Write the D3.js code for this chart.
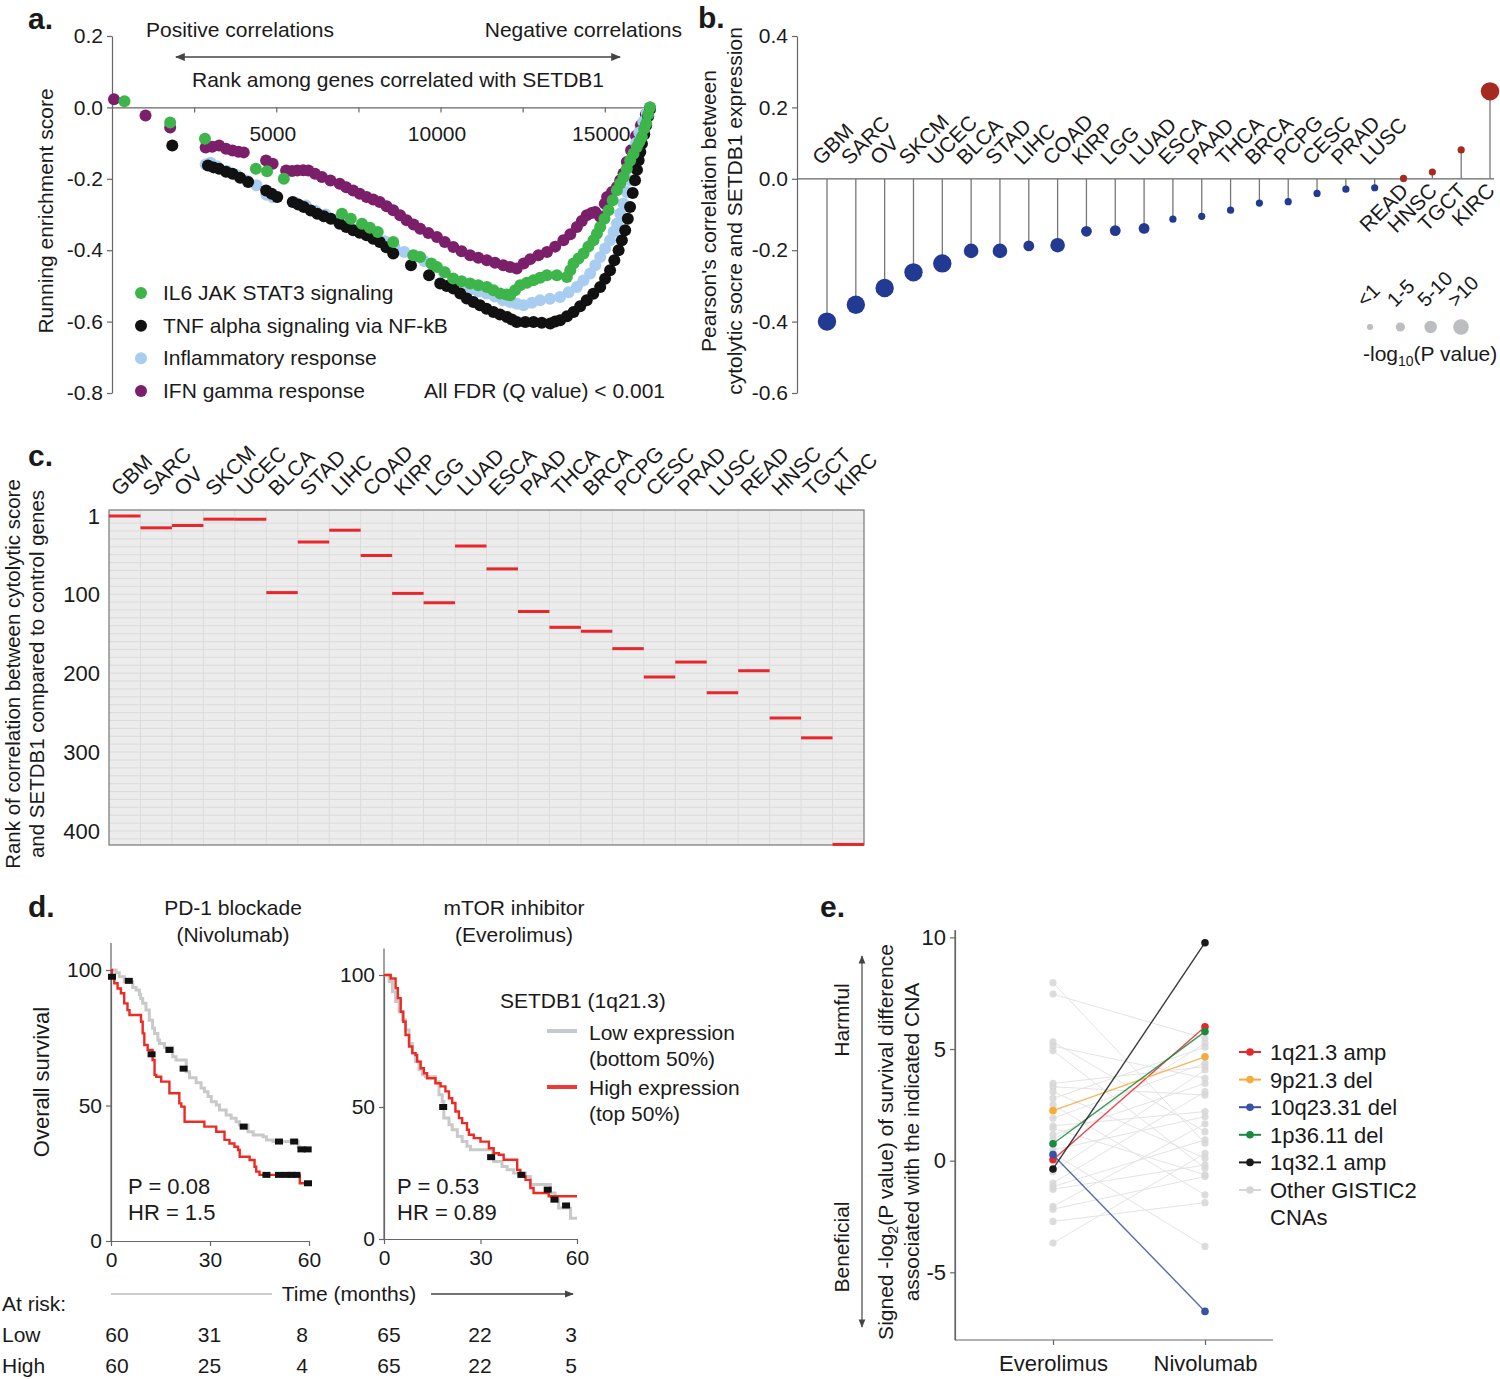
<!DOCTYPE html>
<html><head><meta charset="utf-8">
<script src="https://cdn.jsdelivr.net/npm/d3@7"></script>
<style>
body{margin:0;background:#fff}
svg{display:block}
text{font-family:"Liberation Sans",Arial,sans-serif;fill:#1a1a1a}
</style>
</head><body>
<svg id="fig" width="1500" height="1379"></svg>
<script>
// ================= DATA =================
// Panel a: running enrichment score, [rank, ES]
const aSeriesNames = ["IL6 JAK STAT3 signaling","TNF alpha signaling via NF-kB","Inflammatory response","IFN gamma response"];
const aIFN = [[60,0.023],[1020,-0.023],[1770,-0.056],[2850,-0.112],[3050,-0.110],[3260,-0.107],[3470,-0.116],[3670,-0.121],[3850,-0.124],[4010,-0.126],[4690,-0.149],[4890,-0.158],[5300,-0.177],[5480,-0.178],[5640,-0.177],[5820,-0.176],[5980,-0.177],[6180,-0.186],[6390,-0.195],[6650,-0.205],[6930,-0.214],[7130,-0.224],[7340,-0.233],[7540,-0.242],[7750,-0.251],[7950,-0.258],[8150,-0.265],[8360,-0.277],[8560,-0.288],[8770,-0.302],[8970,-0.316],[9180,-0.328],[9380,-0.340],[9630,-0.352],[9890,-0.363],[10130,-0.377],[10390,-0.391],[10640,-0.403],[10900,-0.414],[11150,-0.421],[11410,-0.428],[11660,-0.435],[11910,-0.442],[12120,-0.447],[12320,-0.451],[12530,-0.437],[12730,-0.425],[12980,-0.414],[13240,-0.405],[13490,-0.390],[13740,-0.372],[13950,-0.355],[14150,-0.335],[14300,-0.318],[14450,-0.302],[14600,-0.296],[14710,-0.293],[14850,-0.305],[14910,-0.311],[15000,-0.270],[15070,-0.251],[15220,-0.237],[15370,-0.223],[15470,-0.204],[15570,-0.185],[15670,-0.153],[15800,-0.120],[15950,-0.080],[16100,-0.050],[16250,-0.020],[16376,0.0]];
const aInflam = [[2850,-0.160],[3000,-0.155],[3200,-0.165],[3500,-0.178],[3800,-0.190],[4100,-0.205],[4400,-0.218],[4700,-0.245],[4900,-0.252],[5600,-0.268],[5900,-0.275],[6200,-0.290],[6500,-0.300],[6800,-0.315],[7100,-0.330],[7400,-0.342],[7700,-0.352],[8000,-0.362],[8300,-0.375],[8600,-0.392],[8900,-0.405],[9200,-0.415],[9500,-0.430],[9800,-0.445],[10100,-0.462],[10385,-0.489],[10650,-0.500],[10900,-0.510],[11150,-0.516],[11400,-0.521],[11650,-0.530],[11900,-0.540],[12120,-0.545],[12320,-0.550],[12525,-0.554],[12780,-0.547],[13030,-0.540],[13330,-0.536],[13640,-0.531],[13900,-0.518],[14150,-0.503],[14350,-0.485],[14555,-0.465],[14710,-0.442],[14860,-0.419],[15010,-0.395],[15160,-0.372],[15270,-0.348],[15370,-0.325],[15470,-0.297],[15570,-0.269],[15670,-0.237],[15770,-0.204],[15830,-0.167],[15880,-0.130],[15950,-0.100],[16050,-0.070],[16170,-0.040],[16280,-0.015],[16376,0.0]];
const aTNF = [[1835,-0.107],[2920,-0.163],[3090,-0.168],[3260,-0.172],[3470,-0.180],[3670,-0.186],[3900,-0.197],[4145,-0.209],[4690,-0.233],[4860,-0.242],[5030,-0.251],[5500,-0.265],[5670,-0.272],[5840,-0.279],[6050,-0.289],[6250,-0.298],[6450,-0.305],[6660,-0.312],[6930,-0.326],[7130,-0.335],[7340,-0.344],[7540,-0.351],[7750,-0.358],[7950,-0.368],[8150,-0.377],[8350,-0.392],[8560,-0.409],[9100,-0.442],[9650,-0.470],[9990,-0.493],[10190,-0.500],[10390,-0.507],[10600,-0.521],[10800,-0.535],[11000,-0.545],[11200,-0.554],[11400,-0.564],[11610,-0.573],[11810,-0.580],[12020,-0.587],[12170,-0.594],[12320,-0.601],[12580,-0.601],[12830,-0.601],[13080,-0.603],[13340,-0.605],[13490,-0.600],[13640,-0.596],[13850,-0.585],[14050,-0.573],[14250,-0.557],[14450,-0.540],[14650,-0.522],[14860,-0.503],[15010,-0.480],[15160,-0.456],[15290,-0.428],[15420,-0.400],[15520,-0.372],[15620,-0.344],[15700,-0.312],[15770,-0.279],[15850,-0.240],[15920,-0.204],[15980,-0.175],[16030,-0.148],[16080,-0.125],[16130,-0.102],[16200,-0.075],[16260,-0.050],[16320,-0.025],[16376,-0.005]];
const aIL6 = [[380,0.017],[1770,-0.042],[2830,-0.088],[4380,-0.172],[4720,-0.179],[5230,-0.200],[7000,-0.298],[7270,-0.312],[7610,-0.326],[7850,-0.337],[8090,-0.349],[8560,-0.377],[9170,-0.414],[9380,-0.419],[9720,-0.437],[9890,-0.447],[10130,-0.462],[10385,-0.479],[10640,-0.487],[10900,-0.493],[11150,-0.498],[11410,-0.503],[11610,-0.512],[11815,-0.521],[12000,-0.524],[12120,-0.526],[12270,-0.512],[12424,-0.498],[12630,-0.491],[12830,-0.484],[13030,-0.477],[13236,-0.470],[13540,-0.470],[13846,-0.475],[13950,-0.456],[14048,-0.437],[14200,-0.423],[14352,-0.409],[14500,-0.390],[14656,-0.372],[14760,-0.354],[14860,-0.335],[14990,-0.312],[15113,-0.288],[15240,-0.260],[15368,-0.232],[15470,-0.213],[15570,-0.195],[15670,-0.172],[15773,-0.148],[15875,-0.130],[15976,-0.111],[16050,-0.097],[16128,-0.083],[16200,-0.060],[16260,-0.045],[16320,-0.020],[16376,0.0]];
const aYTicks = [0.2,0,-0.2,-0.4,-0.6,-0.8];
const aXTicks = [2500,5000,7500,10000,12500,15000];
const aXLabels = [5000,10000,15000];

// Panel b: Pearson correlation per cancer type, and -log10 P category (0:<1, 1:1-5, 2:5-10, 3:>10)
const bCancers = ["GBM","SARC","OV","SKCM","UCEC","BLCA","STAD","LIHC","COAD","KIRP","LGG","LUAD","ESCA","PAAD","THCA","BRCA","PCPG","CESC","PRAD","LUSC","READ","HNSC","TGCT","KIRC"];
const bCorr = [-0.400,-0.353,-0.306,-0.262,-0.237,-0.202,-0.202,-0.188,-0.186,-0.147,-0.145,-0.139,-0.113,-0.105,-0.088,-0.068,-0.064,-0.041,-0.029,-0.025,0.001,0.019,0.081,0.245];
const bSig = [3,3,3,3,3,2,2,1,2,1,1,1,0,0,0,0,0,0,0,0,0,0,0,3];
const bSigLabels = ["<1","1-5","5-10",">10"];
const bYTicks = [0.4,0.2,0,-0.2,-0.4,-0.6];

// Panel c: rank of SETDB1 among control genes
const cCancers = ["GBM","SARC","OV","SKCM","UCEC","BLCA","STAD","LIHC","COAD","KIRP","LGG","LUAD","ESCA","PAAD","THCA","BRCA","PCPG","CESC","PRAD","LUSC","READ","HNSC","TGCT","KIRC"];
const cRank = [1,16,13,5,5,98,34,19,51,99,111,39,68,122,142,147,169,205,186,225,197,257,282,417];
const cYTicks = [1,100,200,300,400];

// Panel d: Kaplan-Meier, [months, % surviving]
const kmNivoLow = [[0,100],[1.5,99],[2.5,97.5],[4,95.7],[6.6,93.5],[7.6,92.6],[8.6,91],[9,89.5],[9.6,87.7],[10.6,85.2],[11.6,81.5],[12.6,78.5],[13.2,76.6],[14.2,74.2],[14.7,72.9],[16.2,71.5],[18.7,68],[19.7,66.8],[22.8,62.5],[23.8,60.2],[25.8,58.4],[27.3,56.5],[28.3,55.1],[29.4,53.3],[30.4,51.4],[31.9,50.2],[32.9,48.3],[34.9,46.5],[36.4,45.3],[37.9,44],[38.9,42.8],[41.5,40.3],[43.1,39.1],[46.1,38.5],[47.1,37.3],[49.1,36.7],[56.7,34.8],[57.2,33.8],[60,33.8]];
const kmNivoHigh = [[0,100],[0.3,97.5],[1,95.1],[2,93.2],[3,91.4],[4,87.7],[5,85.2],[5.6,83.4],[9.1,80.9],[9.6,76.6],[10.1,72.3],[11.1,70.5],[12.6,66.8],[13.2,61.3],[13.7,60.6],[15.2,58.8],[17.7,54.5],[20.7,50.8],[21.3,49.6],[22.3,44.0],[28.3,42.2],[31.9,40.3],[34.4,37.3],[35.9,36.0],[37.4,34.8],[38.5,33.6],[39,31.1],[42,29.9],[43.5,27.4],[44,25.6],[45,24.4],[57.2,21.3],[60,21.3]];
const kmNivoCensor = [[0.3,97.5],[5.4,96],[12.3,68.9],[17.7,70.5],[22,63.6],[40.2,42.2],[47.1,24.4],[50.9,24.4],[53.1,24.4],[54.7,24.4],[56.2,24.4],[50.9,36.7],[55.5,36.7],[57.7,33.8],[59.6,33.8],[59.7,21.3]];
const kmEveLow = [[0,100],[1.6,97.5],[2.6,93.7],[3.6,90],[4.7,86.1],[5.7,83],[6.7,79.2],[7.8,74.1],[8.8,70.4],[9.8,67.2],[10.9,64.1],[11.9,62.2],[12.9,61.5],[16,59.6],[17.1,54.6],[18.1,52.1],[18.6,45.8],[20.2,43.3],[21.2,41.4],[22.8,38.8],[24.3,36.9],[25.8,35.1],[26.9,33.8],[33.8,30.5],[34.1,29.4],[36.7,27.5],[38.3,26.2],[40.3,25],[44,23.7],[45.5,20.6],[51.7,17.4],[53.2,14.9],[54.3,11.7],[58,7.9],[60,7.9]];
const kmEveHigh = [[0,100],[2.1,98.7],[3.6,95],[4.3,91.2],[5.2,86.1],[6,82.3],[6.7,77.3],[7.8,72.9],[8.8,70.4],[9.8,69.7],[10.3,67.2],[11.4,64.7],[12.4,62.8],[13.4,60.9],[16,59],[17.6,57.8],[19.1,55.9],[20.2,53.3],[21.2,51.5],[22.2,48.3],[23.3,45.8],[24.3,43.9],[25.8,41.4],[26.4,39.5],[27.9,38.2],[30,36.9],[32.6,34.4],[34.1,32.5],[35.7,31.9],[37.2,30],[41.4,26.2],[42.4,23.7],[44,22.4],[45.5,19.3],[46.5,17.4],[51.2,16.2],[60,16.2]];
const kmEveCensor = [[18.4,50],[33.3,31],[42.7,24.3],[50.9,18.7],[53.0,14.9],[56.6,12.7]];
const atRiskTimes = [0,30,60];
const atRiskNivoLow = [60,31,8], atRiskNivoHigh = [60,25,4];
const atRiskEveLow = [65,22,3], atRiskEveHigh = [65,22,5];
const dYTicks = [0,50,100];

// Panel e: signed -log2 P for CNAs, Everolimus vs Nivolumab
const eDrugs = ["Everolimus","Nivolumab"];
const eHighNames = ["1q21.3 amp","9p21.3 del","10q23.31 del","1p36.11 del","1q32.1 amp"];
const eHighEve  = [0.04,2.24,0.27,0.76,-0.37];
const eHighNivo = [6.0,4.65,-6.75,5.78,9.76];
const eHighColors = ["#e8262c","#f7ab3b","#3a52a5","#178a40","#1a1a1a"];
const eOtherEve  = [7.97,7.46,5.32,5.13,4.93,3.46,3.31,3.09,2.79,2.50,1.90,1.56,1.45,1.16,0.93,0.48,0.33,-0.48,-1.0,-1.16,-1.28,-2.05,-2.17,-2.72,-3.69];
const eOtherNivo = [0.78,5.48,1.3,3.69,-0.34,4.21,2.94,0.11,5.08,-1.53,4.36,2.2,-0.63,3.46,5.26,1.97,-3.84,4.06,3.09,0.93,-0.19,1.65,-0.71,-1.88,0.33];
const eYTicks = [10,5,0,-5];

// ================= DRAW =================
const FS = 21;
const svg = d3.select("#fig");
svg.append("rect").attr("width",1500).attr("height",1379).attr("fill","#fff");
const defs = svg.append("defs");
defs.append("marker").attr("id","arrEnd").attr("viewBox","0 0 10 10").attr("refX",9).attr("refY",5)
  .attr("markerWidth",7).attr("markerHeight",7).attr("orient","auto-start-reverse")
  .append("path").attr("d","M0,1 L10,5 L0,9 z").attr("fill","#444");

const AXC = "#666";
function styleAxis(g, fs){
  g.selectAll(".domain").attr("stroke",AXC).attr("stroke-width",1.2);
  g.selectAll(".tick line").attr("stroke",AXC).attr("stroke-width",1.2);
  g.selectAll(".tick text").attr("font-size",fs).attr("fill","#1a1a1a")
   .attr("font-family",'"Liberation Sans",Arial,sans-serif');
}
function label(x,y,t){
  svg.append("text").attr("x",x).attr("y",y).attr("font-size",30).attr("font-weight","bold").text(t);
}
const fmt1 = d => d.toFixed(1);
const fmtInt = d => String(d);

// ---------- Panel a ----------
label(28,29,"a.");
const ax = d3.scaleLinear().domain([0,16376]).range([112,650]);
const ay = d3.scaleLinear().domain([-0.8,0.2]).range([393,36]);
const ga = svg.append("g");
ga.append("g").attr("transform","translate(112,0)")
  .call(d3.axisLeft(ay).tickValues(aYTicks).tickFormat(fmt1).tickSize(5).tickPadding(4).tickSizeOuter(0))
  .call(g=>styleAxis(g,FS));
ga.append("g").attr("transform",`translate(0,${ay(0)})`)
  .call(d3.axisBottom(ax).tickValues(aXTicks).tickFormat(d=>aXLabels.includes(d)?fmtInt(d):"").tickSize(5).tickPadding(14).tickSizeOuter(0))
  .call(g=>styleAxis(g,FS))
  .call(g=>g.selectAll(".tick text").attr("dx",-4));
const aData = [aIL6,aTNF,aInflam,aIFN];
const aColors = ["#3db54a","#111111","#a9cdf0","#7b1f6a"];
[3,2,1,0].forEach(i=>{
  ga.append("g").selectAll("circle").data(aData[i]).join("circle")
    .attr("cx",d=>ax(d[0])).attr("cy",d=>ay(d[1])).attr("r",6).attr("fill",aColors[i]);
});
ga.append("text").attr("x",146).attr("y",37).attr("font-size",FS).text("Positive correlations");
ga.append("text").attr("x",682).attr("y",37).attr("font-size",FS).attr("text-anchor","end").text("Negative correlations");
ga.append("line").attr("x1",176).attr("x2",620).attr("y1",57).attr("y2",57).attr("stroke","#444").attr("stroke-width",1.4)
  .attr("marker-start","url(#arrEnd)").attr("marker-end","url(#arrEnd)");
ga.append("text").attr("x",398).attr("y",87).attr("font-size",FS).attr("text-anchor","middle").text("Rank among genes correlated with SETDB1");
ga.append("text").attr("transform","translate(53,211) rotate(-90)").attr("font-size",FS).attr("text-anchor","middle").text("Running enrichment score");
const aLegY = d3.scalePoint().domain(aSeriesNames).range([293,391]);
aSeriesNames.forEach((n,i)=>{
  ga.append("circle").attr("cx",141).attr("cy",aLegY(n)).attr("r",6).attr("fill",aColors[i]);
  ga.append("text").attr("x",163).attr("y",aLegY(n)+7).attr("font-size",FS).text(n);
});
ga.append("text").attr("x",665).attr("y",398).attr("font-size",FS).attr("text-anchor","end").text("All FDR (Q value) < 0.001");

// ---------- Panel b ----------
label(698,28,"b.");
const bx = d3.scalePoint().domain(bCancers).range([827,1490]);
const by = d3.scaleLinear().domain([-0.6,0.4]).range([393,36]);
const bR = d3.scaleOrdinal().domain([0,1,2,3]).range([3.6,5.4,7.3,9.2]);
const gb = svg.append("g");
gb.append("g").attr("transform","translate(797,0)")
  .call(d3.axisLeft(by).tickValues(bYTicks).tickFormat(fmt1).tickSize(5).tickPadding(4).tickSizeOuter(0))
  .call(g=>styleAxis(g,FS));
gb.append("line").attr("x1",797).attr("x2",1494).attr("y1",by(0)).attr("y2",by(0)).attr("stroke",AXC).attr("stroke-width",1.2);
bCancers.forEach((c,i)=>{
  const v = bCorr[i];
  gb.append("line").attr("x1",bx(c)).attr("x2",bx(c)).attr("y1",by(0)).attr("y2",by(v)).attr("stroke","#777").attr("stroke-width",1.3);
  gb.append("circle").attr("cx",bx(c)).attr("cy",by(v)).attr("r",bR(bSig[i])).attr("fill",v<0?"#233a93":"#a52a1f");
  if(v<0){
    gb.append("text").attr("transform",`translate(${bx(c)-6},${166}) rotate(-45)`).attr("font-size",FS).text(c);
  } else {
    gb.append("text").attr("transform",`translate(${bx(c)+6},${192}) rotate(-45)`).attr("font-size",FS).attr("text-anchor","end").text(c);
  }
});
const bLegX = d3.scalePoint().domain(bSigLabels).range([1370,1461]);
bSigLabels.forEach((l,i)=>{
  gb.append("circle").attr("cx",bLegX(l)).attr("cy",327).attr("r",bR(i)*0.85).attr("fill","#bcbdc1");
  gb.append("text").attr("transform",`translate(${bLegX(l)-5},${308}) rotate(-45)`).attr("font-size",20).text(l);
});
const bl = gb.append("text").attr("x",1363).attr("y",361).attr("font-size",FS);
bl.append("tspan").text("-log");
bl.append("tspan").attr("font-size",14).attr("dy",5).text("10");
bl.append("tspan").attr("dy",-5).text("(P value)");
gb.append("text").attr("transform","translate(716,211) rotate(-90)").attr("font-size",FS).attr("text-anchor","middle").text("Pearson's correlation between");
gb.append("text").attr("transform","translate(742,211) rotate(-90)").attr("font-size",FS).attr("text-anchor","middle").text("cytolytic socre and SETDB1 expression");

// ---------- Panel c ----------
label(28,466,"c.");
const cx = d3.scaleBand().domain(cCancers).range([109,864]);
const cy = d3.scaleLinear().domain([-6.6,417.7]).range([510,845]);
const gc = svg.append("g");
gc.append("rect").attr("x",109).attr("y",510).attr("width",755).attr("height",335).attr("fill","#ececec");
gc.append("g").selectAll("line").data(d3.range(10,420,10)).join("line")
  .attr("x1",109).attr("x2",864).attr("y1",d=>cy(d)).attr("y2",d=>cy(d)).attr("stroke","#d9d9d9").attr("stroke-width",0.9);
gc.append("g").selectAll("line").data(cCancers.slice(1)).join("line")
  .attr("x1",d=>cx(d)).attr("x2",d=>cx(d)).attr("y1",510).attr("y2",845).attr("stroke","#dcdcdc").attr("stroke-width",1);
gc.append("rect").attr("x",109).attr("y",510).attr("width",755).attr("height",335).attr("fill","none").attr("stroke","#777").attr("stroke-width",1.2);
gc.append("g").selectAll("line").data(cCancers).join("line")
  .attr("x1",d=>cx(d)).attr("x2",d=>cx(d)+cx.bandwidth()).attr("y1",(d,i)=>cy(cRank[i])).attr("y2",(d,i)=>cy(cRank[i]))
  .attr("stroke","#e8262c").attr("stroke-width",3);
gc.append("g").attr("transform","translate(104,0)")
  .call(d3.axisLeft(cy).tickValues(cYTicks).tickSize(0).tickPadding(4))
  .call(g=>styleAxis(g,22)).call(g=>g.select(".domain").remove());
cCancers.forEach(c=>{
  gc.append("text").attr("transform",`translate(${cx(c)+cx.bandwidth()/2-5},${497}) rotate(-45)`).attr("font-size",FS).text(c);
});
gc.append("text").attr("transform","translate(20,674) rotate(-90)").attr("font-size",20.5).attr("text-anchor","middle").text("Rank of correlation between cytolytic score");
gc.append("text").attr("transform","translate(44,674) rotate(-90)").attr("font-size",20.5).attr("text-anchor","middle").text("and SETDB1 compared to control genes");

// ---------- Panel d ----------
label(28,917,"d.");
const gd = svg.append("g");
function km(xs, ys, low, high, cens){
  const g = gd.append("g");
  g.append("g").attr("transform",`translate(${xs(0)},0)`)
    .call(d3.axisLeft(ys).tickValues(dYTicks).tickSize(5).tickPadding(4).tickSizeOuter(0))
    .call(gg=>styleAxis(gg,FS));
  g.append("line").attr("x1",xs(0)).attr("x2",xs(0)).attr("y1",ys(0)).attr("y2",ys(110)).attr("stroke",AXC).attr("stroke-width",1.2);
  g.append("g").attr("transform",`translate(0,${ys(0)})`)
    .call(d3.axisBottom(xs).tickValues(atRiskTimes).tickSize(5).tickPadding(6).tickSizeOuter(0))
    .call(gg=>styleAxis(gg,FS));
  const line = d3.line().x(d=>xs(d[0])).y(d=>ys(d[1])).curve(d3.curveStepAfter);
  g.append("path").attr("d",line(low)).attr("fill","none").attr("stroke","#c9c9c9").attr("stroke-width",3);
  g.append("path").attr("d",line(high)).attr("fill","none").attr("stroke","#ee2a24").attr("stroke-width",2.4);
  g.selectAll("rect.c").data(cens).join("rect").attr("x",d=>xs(d[0])-4).attr("y",d=>ys(d[1])-3).attr("width",8).attr("height",6).attr("fill","#111");
}
const dxL = d3.scaleLinear().domain([0,60]).range([111,309]);
const dyL = d3.scaleLinear().domain([0,100]).range([1241,970]);
const dxR = d3.scaleLinear().domain([0,60]).range([384,577]);
const dyR = d3.scaleLinear().domain([0,100]).range([1239,975]);
km(dxL,dyL,kmNivoLow,kmNivoHigh,kmNivoCensor);
km(dxR,dyR,kmEveLow,kmEveHigh,kmEveCensor);
gd.append("text").attr("x",233).attr("y",915).attr("font-size",FS).attr("text-anchor","middle").text("PD-1 blockade");
gd.append("text").attr("x",233).attr("y",942).attr("font-size",FS).attr("text-anchor","middle").text("(Nivolumab)");
gd.append("text").attr("x",514).attr("y",915).attr("font-size",FS).attr("text-anchor","middle").text("mTOR inhibitor");
gd.append("text").attr("x",514).attr("y",942).attr("font-size",FS).attr("text-anchor","middle").text("(Everolimus)");
gd.append("text").attr("transform","translate(49,1082) rotate(-90)").attr("font-size",22).attr("text-anchor","middle").text("Overall survival");
gd.append("text").attr("x",128).attr("y",1194).attr("font-size",22).text("P = 0.08");
gd.append("text").attr("x",128).attr("y",1220).attr("font-size",22).text("HR = 1.5");
gd.append("text").attr("x",397).attr("y",1194).attr("font-size",22).text("P = 0.53");
gd.append("text").attr("x",397).attr("y",1220).attr("font-size",22).text("HR = 0.89");
gd.append("text").attr("x",500).attr("y",1008).attr("font-size",FS).text("SETDB1 (1q21.3)");
gd.append("line").attr("x1",547).attr("x2",577).attr("y1",1031).attr("y2",1031).attr("stroke","#c6c9d0").attr("stroke-width",4);
gd.append("line").attr("x1",547).attr("x2",577).attr("y1",1087).attr("y2",1087).attr("stroke","#ee3b36").attr("stroke-width",4);
gd.append("text").attr("x",589).attr("y",1040).attr("font-size",FS).text("Low expression");
gd.append("text").attr("x",589).attr("y",1066).attr("font-size",FS).text("(bottom 50%)");
gd.append("text").attr("x",589).attr("y",1095).attr("font-size",FS).text("High expression");
gd.append("text").attr("x",589).attr("y",1121).attr("font-size",FS).text("(top 50%)");
gd.append("line").attr("x1",111).attr("x2",272).attr("y1",1294).attr("y2",1294).attr("stroke","#bbb").attr("stroke-width",1.5);
gd.append("line").attr("x1",431).attr("x2",573).attr("y1",1294).attr("y2",1294).attr("stroke","#444").attr("stroke-width",1.3).attr("marker-end","url(#arrEnd)");
gd.append("text").attr("x",349).attr("y",1301).attr("font-size",FS).attr("text-anchor","middle").text("Time (months)");
gd.append("text").attr("x",2).attr("y",1311).attr("font-size",FS).text("At risk:");
gd.append("text").attr("x",2).attr("y",1342).attr("font-size",FS).text("Low");
gd.append("text").attr("x",2).attr("y",1373).attr("font-size",FS).text("High");
const arL = d3.scalePoint().domain(atRiskTimes).range([117,302]);
const arR = d3.scalePoint().domain(atRiskTimes).range([389,571]);
atRiskTimes.forEach((t,i)=>{
  gd.append("text").attr("x",arL(t)).attr("y",1342).attr("font-size",FS).attr("text-anchor","middle").text(atRiskNivoLow[i]);
  gd.append("text").attr("x",arL(t)).attr("y",1373).attr("font-size",FS).attr("text-anchor","middle").text(atRiskNivoHigh[i]);
  gd.append("text").attr("x",arR(t)).attr("y",1342).attr("font-size",FS).attr("text-anchor","middle").text(atRiskEveLow[i]);
  gd.append("text").attr("x",arR(t)).attr("y",1373).attr("font-size",FS).attr("text-anchor","middle").text(atRiskEveHigh[i]);
});

// ---------- Panel e ----------
label(820,917,"e.");
const ex = d3.scalePoint().domain(eDrugs).range([1053,1205]);
const ey = d3.scaleLinear().domain([-8.03,10.33]).range([1340,930]);
const ge = svg.append("g");
ge.append("g").attr("transform","translate(955,0)")
  .call(d3.axisLeft(ey).tickValues(eYTicks).tickFormat(fmtInt).tickSize(5).tickPadding(4).tickSizeOuter(0))
  .call(g=>styleAxis(g,22));
ge.append("line").attr("x1",955).attr("x2",955).attr("y1",930).attr("y2",1340).attr("stroke",AXC).attr("stroke-width",1.2);
ge.append("g").attr("transform","translate(0,1340)")
  .call(d3.axisBottom(ex).tickSize(5).tickPadding(10).tickSizeOuter(0))
  .call(g=>styleAxis(g,22)).call(g=>g.select(".domain").remove());
ge.append("line").attr("x1",955).attr("x2",1273).attr("y1",1340).attr("y2",1340).attr("stroke",AXC).attr("stroke-width",1.2);
eOtherEve.forEach((v,i)=>{
  ge.append("line").attr("x1",ex("Everolimus")).attr("x2",ex("Nivolumab")).attr("y1",ey(v)).attr("y2",ey(eOtherNivo[i]))
    .attr("stroke","#e4e4e4").attr("stroke-width",1);
});
eOtherEve.forEach((v,i)=>{
  ge.append("circle").attr("cx",ex("Everolimus")).attr("cy",ey(v)).attr("r",3.6).attr("fill","#d6d6d6").attr("opacity",0.85);
  ge.append("circle").attr("cx",ex("Nivolumab")).attr("cy",ey(eOtherNivo[i])).attr("r",3.6).attr("fill","#d6d6d6").attr("opacity",0.85);
});
eHighNames.forEach((n,i)=>{
  ge.append("line").attr("x1",ex("Everolimus")).attr("x2",ex("Nivolumab")).attr("y1",ey(eHighEve[i])).attr("y2",ey(eHighNivo[i]))
    .attr("stroke",eHighColors[i]).attr("stroke-width",1.4).attr("opacity",0.85);
  ge.append("circle").attr("cx",ex("Everolimus")).attr("cy",ey(eHighEve[i])).attr("r",3.8).attr("fill",eHighColors[i]);
  ge.append("circle").attr("cx",ex("Nivolumab")).attr("cy",ey(eHighNivo[i])).attr("r",3.8).attr("fill",eHighColors[i]);
});
const eLegNames = eHighNames.concat(["Other GISTIC2"]);
const eLegColors = eHighColors.concat(["#d6d6d6"]);
const eLegY = d3.scalePoint().domain(eLegNames).range([1052,1190]);
eLegNames.forEach((n,i)=>{
  ge.append("line").attr("x1",1239).attr("x2",1261).attr("y1",eLegY(n)).attr("y2",eLegY(n)).attr("stroke",eLegColors[i]).attr("stroke-width",2);
  ge.append("circle").attr("cx",1250).attr("cy",eLegY(n)).attr("r",3.8).attr("fill",eLegColors[i]);
  ge.append("text").attr("x",1270).attr("y",eLegY(n)+8).attr("font-size",22).text(n);
});
ge.append("text").attr("x",1270).attr("y",1225).attr("font-size",22).text("CNAs");
const el = ge.append("text").attr("transform","translate(893,1142) rotate(-90)").attr("font-size",FS).attr("text-anchor","middle");
el.append("tspan").text("Signed -log");
el.append("tspan").attr("font-size",14).attr("dy",5).text("2");
el.append("tspan").attr("dy",-5).text("(P value) of survival difference");
ge.append("text").attr("transform","translate(919,1142) rotate(-90)").attr("font-size",FS).attr("text-anchor","middle").text("associated with the indicated CNA");
ge.append("text").attr("transform","translate(849,1020) rotate(-90)").attr("font-size",FS).attr("text-anchor","middle").text("Harmful");
ge.append("text").attr("transform","translate(849,1247) rotate(-90)").attr("font-size",FS).attr("text-anchor","middle").text("Beneficial");
ge.append("line").attr("x1",862).attr("x2",862).attr("y1",956).attr("y2",1327).attr("stroke","#444").attr("stroke-width",1.2)
  .attr("marker-start","url(#arrEnd)").attr("marker-end","url(#arrEnd)");
</script>
</body></html>
